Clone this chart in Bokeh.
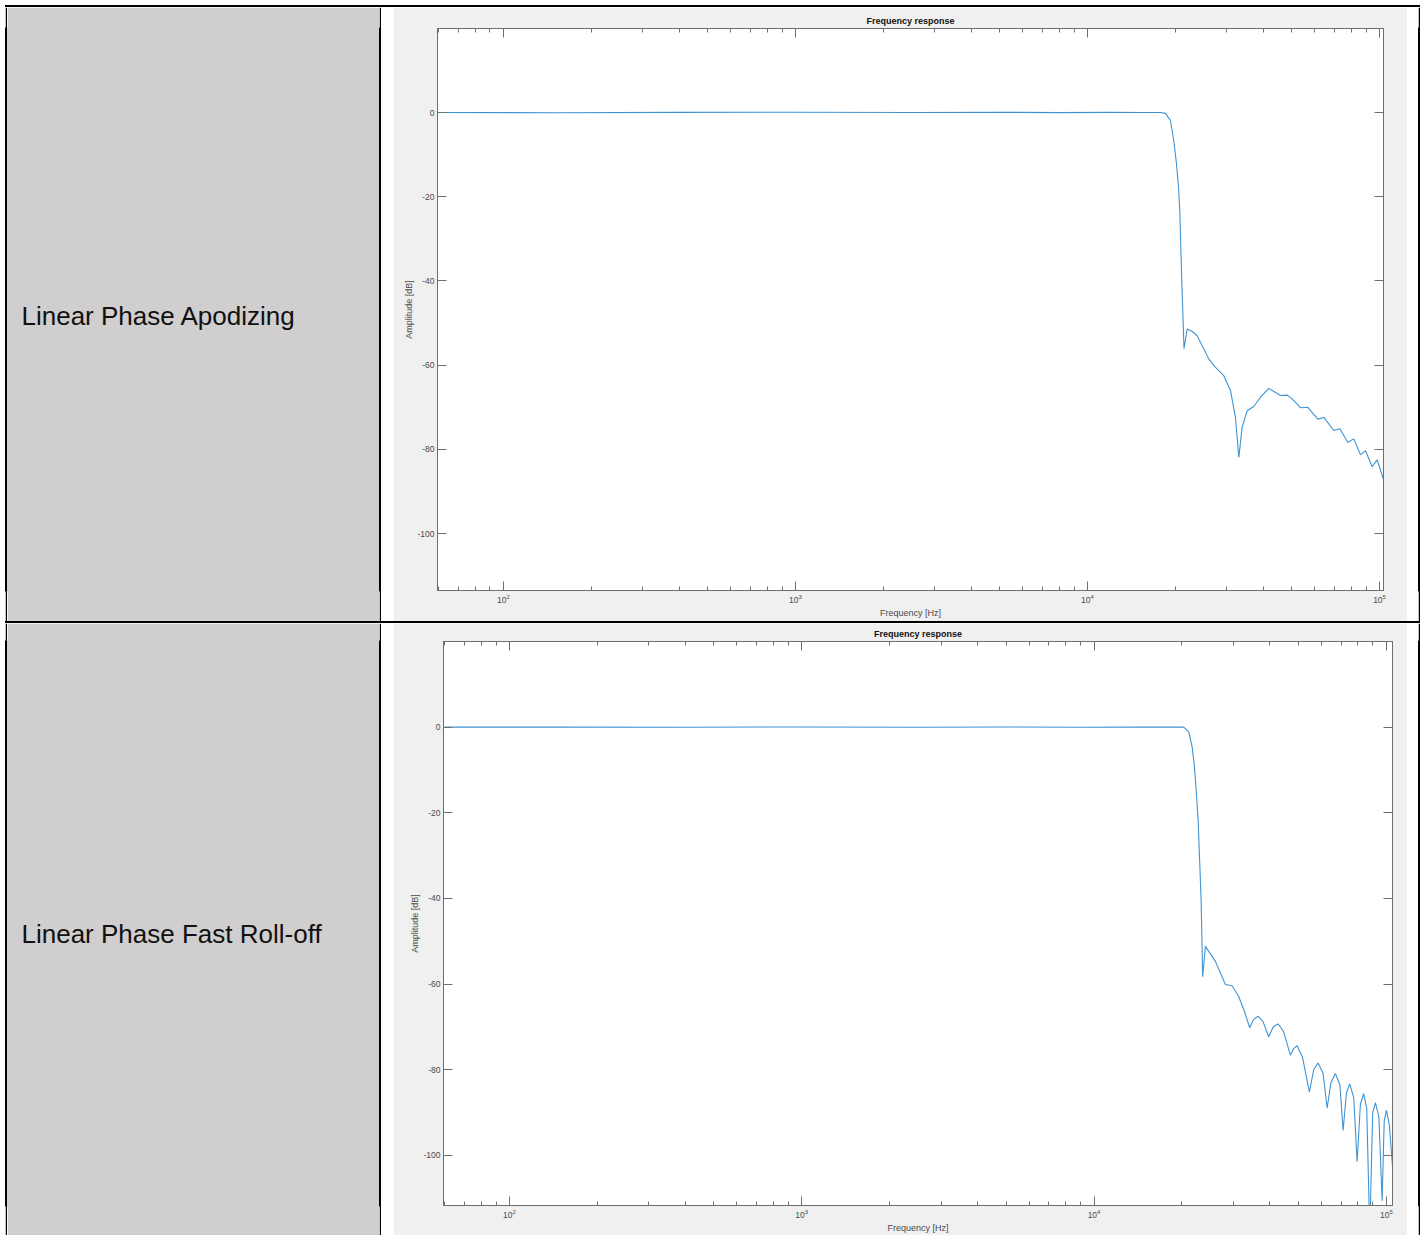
from bokeh.plotting import figure
from bokeh.layouts import row, column
from bokeh.models import (FixedTicker, LogAxis, LinearAxis, Range1d, Label, ColumnDataSource,
                          CustomJSTickFormatter, Div)
from bokeh.embed import file_html
from bokeh.resources import INLINE

# ---------------- data ----------------
row_labels = ["Linear Phase Apodizing", "Linear Phase Fast Roll-off"]
plot_title = "Frequency response"
x_label = "Frequency [Hz]"
y_label = "Amplitude [dB]"

x_major_ticks = [100, 1000, 10000, 100000]
x_minor_ticks = [60, 70, 80, 90,
                 200, 300, 400, 500, 600, 700, 800, 900,
                 2000, 3000, 4000, 5000, 6000, 7000, 8000, 9000,
                 20000, 30000, 40000, 50000, 60000, 70000, 80000, 90000]
y_ticks = [-100, -80, -60, -40, -20, 0]

apod_freq = [60, 150, 400, 1000, 2500, 5000, 8000, 12000, 15500, 17800,
             18500, 19240, 19750, 20180, 20500, 20710, 20990, 21270, 21410, 21950,
             22840, 23750, 26030, 27440, 29300, 30880, 32120, 32980, 33870, 35230,
             37110, 39130, 41780, 45810, 48300, 50230, 53640, 56830, 61500, 64460,
             69740, 73110, 77890, 81660, 86100, 89550, 94400, 98200, 103000]
apod_db = [0, -0.05, 0.03, 0.08, 0.0, 0.05, -0.03, 0.04, 0.0, 0.0,
           -0.2, -1.9, -6.7, -12.2, -17.7, -23.3, -38.0, -50.0, -56.1, -51.4,
           -52.0, -53.0, -58.5, -60.5, -62.5, -66.0, -72.4, -81.9, -74.7, -70.8,
           -69.8, -67.6, -65.5, -67.2, -67.1, -68.0, -70.1, -70.0, -72.8, -72.4,
           -75.5, -75.1, -78.3, -77.5, -81.3, -80.3, -84.1, -82.5, -87.0]

fast_freq = [60, 150, 400, 1000, 2500, 5000, 9000, 14000, 18000,
             20270, 21090, 21660, 22060, 22400, 22710, 23250, 23540, 24050,
             26020, 28150, 29680, 31260, 32710, 34100, 35110, 36430, 37830, 39600,
             41110, 42650, 44460, 46980, 48300, 49530, 51640, 54570, 56440, 58440,
             60770, 62740, 64650, 66970, 69370, 71160, 73030, 74960, 77370, 79450,
             81540, 83690, 85700, 87770, 89860, 91800, 94330, 96760, 98360, 100100,
             102480, 105500]
fast_db = [0, 0.03, -0.04, 0.05, -0.03, 0.04, -0.02, 0.03, 0.0,
           0.0, -1.1, -4.6, -9.3, -15.5, -21.7, -40.3, -58.3, -51.2,
           -54.7, -60.1, -60.4, -62.9, -66.4, -70.2, -68.3, -67.5, -68.7, -72.3,
           -69.9, -69.3, -71.0, -76.6, -75.0, -74.4, -77.0, -85.2, -80.0, -78.4,
           -80.8, -89.0, -83.0, -80.9, -83.5, -94.2, -85.5, -83.3, -86.5, -101.5,
           -88.0, -85.6, -89.0, -118.0, -90.0, -87.7, -91.0, -110.6, -92.0, -89.5,
           -93.0, -104.4]

# ---------------- styling ----------------
CELL_GRAY = "#D0CECE"
FIG_BG = "#F0F0F0"
AX_COLOR = "#6e6e6e"
TXT_COLOR = "#4a4a4a"
LINE_COLOR = "#3f93d3"
FONT = "Liberation Sans"


def block(w, h, color, y_range=None):
    b = figure(width=w, height=h, toolbar_location=None, output_backend="svg",
               min_border=0, x_axis_type=None, y_axis_type=None,
               x_range=Range1d(0, w), y_range=y_range if y_range is not None else Range1d(0, 1),
               background_fill_color=color, border_fill_color=color,
               outline_line_color=color, outline_line_width=2)
    b.grid.visible = False
    return b


def hrule(w, h):
    return Div(text="", width=w, height=h,
               styles={"background-color": "black", "margin": "0", "padding": "0"})


def label_cell(text, h, y_range, y_pos):
    c = block(372, h, CELL_GRAY, y_range)
    c.add_layout(Label(x=14, y=y_pos, text=text,
                       text_font=FONT, text_font_size="26px", text_color="#111111",
                       text_baseline="alphabetic", text_align="left"))
    return c


def style_axis(ax, show_labels):
    ax.axis_line_color = AX_COLOR
    ax.major_tick_line_color = AX_COLOR
    ax.minor_tick_line_color = AX_COLOR
    ax.major_tick_in = 9
    ax.major_tick_out = 0
    ax.minor_tick_in = 4
    ax.minor_tick_out = 0
    if show_labels:
        ax.major_label_text_font = FONT
        ax.major_label_text_font_size = "8.5px"
        ax.major_label_text_color = TXT_COLOR
        ax.major_label_standoff = 3
        ax.axis_label_text_font = FONT
        ax.axis_label_text_font_size = "9px"
        ax.axis_label_text_font_style = "normal"
        ax.axis_label_text_color = TXT_COLOR
        ax.axis_label_standoff = 2
    else:
        ax.formatter = CustomJSTickFormatter(code="return ' ';")
        ax.major_label_text_font_size = "1px"
        ax.major_label_text_color = None
        ax.major_label_standoff = 0


def freq_plot(freq, db, h, x_end, y_range, borders):
    left, right, top, bottom = borders
    p = figure(width=1014, height=h, x_axis_type="log",
               x_range=Range1d(59.5, x_end), y_range=y_range,
               output_backend="svg", toolbar_location=None,
               min_border_left=left, min_border_right=right,
               min_border_top=top, min_border_bottom=bottom,
               background_fill_color="white", border_fill_color=FIG_BG,
               outline_line_color=AX_COLOR)
    p.grid.visible = False
    p.title.text = plot_title
    p.title.align = "center"
    p.title.text_font = FONT
    p.title.text_font_size = "9px"
    p.title.text_font_style = "bold"
    p.title.text_color = "#111111"
    p.title.standoff = 5

    xt = FixedTicker(ticks=x_major_ticks, minor_ticks=x_minor_ticks)
    yt = FixedTicker(ticks=y_ticks)
    p.xaxis.ticker = xt
    p.yaxis.ticker = yt
    p.xaxis.axis_label = x_label
    p.yaxis.axis_label = y_label
    for ax in p.xaxis:
        style_axis(ax, True)
    for ax in p.yaxis:
        style_axis(ax, True)
        ax.axis_label_standoff = 0
        ax.minor_tick_line_color = None
        ax.major_label_overrides = {float(t): str(t) for t in y_ticks}

    top_ax = LogAxis(ticker=xt)
    style_axis(top_ax, False)
    p.add_layout(top_ax, "above")
    right_ax = LinearAxis(ticker=yt)
    style_axis(right_ax, False)
    right_ax.minor_tick_line_color = None
    p.add_layout(right_ax, "right")

    src = ColumnDataSource(dict(freq=freq, db=db))
    p.line("freq", "db", source=src, line_color=LINE_COLOR, line_width=1.1)
    return p


H1 = 614
H2 = 612
TOTAL_W = 2 + 372 + 2 + 12 + 1014 + 11 + 2

yr1 = Range1d(-113.5, 19.95)
yr2 = Range1d(-111.7, 20.0)

plot1 = freq_plot(apod_freq, apod_db, H1, 103200, yr1, (44, 24, 21, 31))
plot2 = freq_plot(fast_freq, fast_db, H2, 105000, yr2, (50, 15, 18, 29))

row1 = row(block(2, H1, "black"), label_cell(row_labels[0], H1, yr1, -48.3), block(2, H1, "black"),
           block(12, H1, "white"), plot1, block(11, H1, "white"), block(2, H1, "black"))
row2 = row(block(2, H2, "black"), label_cell(row_labels[1], H2, yr2, -48.3), block(2, H2, "black"),
           block(12, H2, "white"), plot2, block(11, H2, "white"), block(2, H2, "black"))

page = column(hrule(TOTAL_W, 2), row1, hrule(TOTAL_W, 2), row2,
              styles={"margin-top": "5px", "margin-left": "5px"})

open("out.html", "w").write(file_html(page, INLINE))
